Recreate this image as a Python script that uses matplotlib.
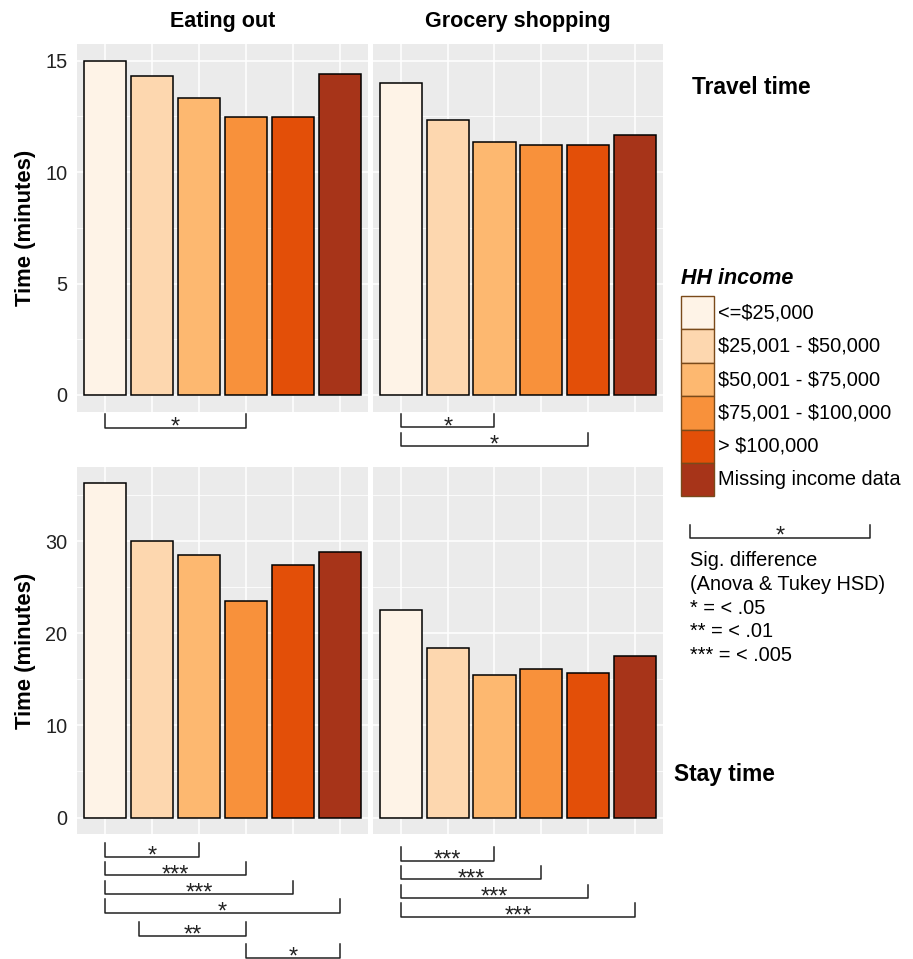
import matplotlib
matplotlib.use("Agg")
import matplotlib.pyplot as plt
from matplotlib.patches import Rectangle
from matplotlib.lines import Line2D
from matplotlib.transforms import blended_transform_factory

plt.rcParams['font.family'] = ['Liberation Sans', 'DejaVu Sans']
plt.rcParams['text.parse_math'] = False

# ---- data ----
income_groups = ["<=$25,000", "$25,001 - $50,000", "$50,001 - $75,000",
                 "$75,001 - $100,000", "> $100,000", "Missing income data"]
activities = ["Eating out", "Grocery shopping"]
measures = ["Travel time", "Stay time"]

travel_eating = [15.0, 14.33, 13.33, 12.49, 12.49, 14.42]
travel_grocery = [14.0, 12.36, 11.33, 11.24, 11.24, 11.66]
stay_eating = [36.25, 30.0, 28.48, 23.49, 27.36, 28.8]
stay_grocery = [22.48, 18.36, 15.47, 16.16, 15.69, 17.49]

bar_colors = ["#FEF3E7", "#FDD7AF", "#FDB870", "#F8913B", "#E34F08", "#A73419"]

# significance brackets: (start, end, label) in category positions
sig_travel_eating = [(1, 4, "*")]
sig_travel_grocery = [(1, 3, "*"), (1, 5, "*")]
sig_stay_eating = [(1, 3, "*"), (1, 4, "***"), (1, 5, "***"), (1, 6, "*"),
                   (1.73, 4, "**"), (4, 6, "*")]
sig_stay_grocery = [(1, 3, "***"), (1, 4, "***"), (1, 5, "***"), (1, 6, "***")]

W, H = 913, 959
fig = plt.figure(figsize=(W / 100, H / 100), dpi=100)

STAR_SIZE = 17
STAR_RISE = 5.9  # baseline offset below the bracket line, px


def px_axes(x0, y0, x1, y1):
    return fig.add_axes([x0 / W, 1 - y1 / H, (x1 - x0) / W, (y1 - y0) / H])


def fy(y):
    return 1 - y / H


def draw_panel(ax, values, ymax, major, minor, show_labels):
    ax.set_facecolor("#EBEBEB")
    x = list(range(1, len(values) + 1))
    ax.bar(x, values, width=0.9, color=bar_colors, edgecolor="black",
           linewidth=1.1, zorder=3)
    ax.set_xlim(0.4, 6.6)
    ax.set_ylim(-0.05 * ymax, 1.05 * ymax)
    ax.set_xticks(x)
    ax.set_yticks(major)
    ax.set_yticks(minor, minor=True)
    ax.grid(True, which="major", color="white", linewidth=1.1, zorder=0)
    ax.grid(True, which="minor", axis="y", color="white", linewidth=0.55, zorder=0)
    ax.tick_params(axis="both", which="both", length=0)
    ax.set_xticklabels([])
    if show_labels:
        ax.set_yticklabels([str(v) for v in major], fontsize=14.3, color="#222222")
        ax.tick_params(axis="y", pad=7)
    else:
        ax.set_yticklabels([])
    for s in ax.spines.values():
        s.set_visible(False)


def draw_brackets(ax, brackets, line_ys, tick_h=13.5):
    tr = blended_transform_factory(ax.transData, fig.transFigure)
    for (a, b, lab), yl in zip(brackets, line_ys):
        ax.add_line(Line2D([a, a, b, b], [fy(yl - tick_h), fy(yl), fy(yl), fy(yl - tick_h)],
                           transform=tr, color="#222222", linewidth=1.1,
                           clip_on=False))
        ax.text((a + b) / 2, fy(yl + STAR_RISE), lab, transform=tr, ha="center",
                va="baseline", fontsize=STAR_SIZE, color="#222222",
                clip_on=False)


ax_tl = px_axes(77, 44, 368, 411.7)
ax_tr = px_axes(373, 44, 662.7, 411.7)
ax_bl = px_axes(77, 466.7, 368, 834.3)
ax_br = px_axes(373, 466.7, 662.7, 834.3)

top_max = max(travel_eating + travel_grocery)
bot_max = max(stay_eating + stay_grocery)
draw_panel(ax_tl, travel_eating, top_max, [0, 5, 10, 15], [2.5, 7.5, 12.5], True)
draw_panel(ax_tr, travel_grocery, top_max, [0, 5, 10, 15], [2.5, 7.5, 12.5], False)
draw_panel(ax_bl, stay_eating, bot_max, [0, 10, 20, 30], [5, 15, 25, 35], True)
draw_panel(ax_br, stay_grocery, bot_max, [0, 10, 20, 30], [5, 15, 25, 35], False)

draw_brackets(ax_tl, sig_travel_eating, [427.5])
draw_brackets(ax_tr, sig_travel_grocery, [427.3, 446])
draw_brackets(ax_bl, sig_stay_eating, [856.7, 875.3, 894, 912.7, 935.7, 957.5])
draw_brackets(ax_br, sig_stay_grocery, [860.7, 879.3, 898, 916.7])

# facet strip titles
for ax, name in zip([ax_tl, ax_tr], activities):
    pos = ax.get_position()
    fig.text((pos.x0 + pos.x1) / 2, fy(21), name, ha="center", va="center",
             fontsize=15.5, fontweight="bold")

# y axis titles
for ax in [ax_tl, ax_bl]:
    pos = ax.get_position()
    fig.text(25 / W, (pos.y0 + pos.y1) / 2, "Time (minutes)", rotation=90,
             ha="center", va="center", fontsize=15.8, fontweight="bold")

# row labels
fig.text(692 / W, fy(88), measures[0], ha="left", va="center",
         fontsize=16.4, fontweight="bold")
fig.text(674 / W, fy(774), measures[1], ha="left", va="center",
         fontsize=16.4, fontweight="bold")

# legend
fig.text(681 / W, fy(279), "HH income", ha="left", va="center", fontsize=15.5,
         fontweight="bold", fontstyle="italic")
key_top, key_h = 296, 33.4
for i, (lab, col) in enumerate(zip(income_groups, bar_colors)):
    y0 = key_top + i * key_h
    fig.patches.append(Rectangle((681 / W, fy(y0 + key_h)), 33 / W, key_h / H,
                                 transform=fig.transFigure, facecolor=col,
                                 edgecolor="#7A4A1A", linewidth=1.0))
    fig.text(718 / W, fy(y0 + key_h / 2), lab, ha="left", va="center",
             fontsize=14.4)

# significance key
lx0, lx1, ly = 690, 870, 537.7
fig.add_artist(Line2D([lx0 / W, lx0 / W, lx1 / W, lx1 / W],
                      [fy(ly - 12.5), fy(ly), fy(ly), fy(ly - 12.5)],
                      transform=fig.transFigure, color="#222222", linewidth=1.1))
fig.text((lx0 + lx1) / 2 / W, fy(ly + STAR_RISE - 1.5), "*", ha="center",
         va="baseline", fontsize=STAR_SIZE, color="#222222")
sig_notes = ["Sig. difference", "(Anova & Tukey HSD)", "* = < .05",
             "** = < .01", "*** = < .005"]
for i, t in enumerate(sig_notes):
    fig.text(690 / W, fy(561 + i * 23.6), t, ha="left", va="center", fontsize=14.4)

fig.savefig("out.png", dpi=100)
